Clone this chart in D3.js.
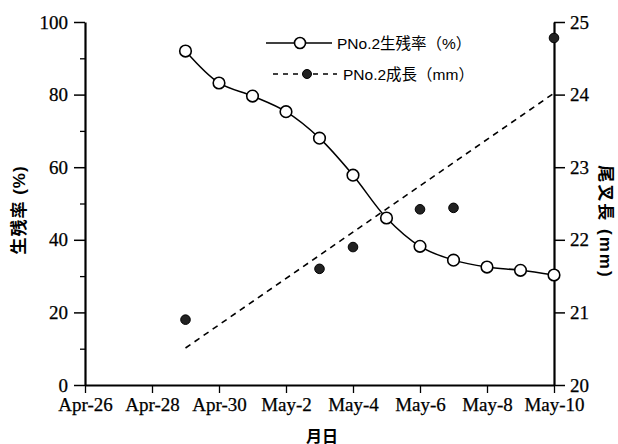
<!DOCTYPE html>
<html>
<head>
<meta charset="utf-8">
<script src="https://cdn.jsdelivr.net/npm/d3@7"></script>
<style>
  html, body { margin: 0; padding: 0; background: #fff; }
  svg { display: block; }
  .cjk { font-family: "Liberation Sans", "Noto Sans CJK JP", sans-serif; fill: #000; }
</style>
</head>
<body>
<svg id="chart" width="618" height="444"></svg>
<script>
// Survey dates and measurements for PNo.2
const surveyDates = ["2000-04-29","2000-04-30","2000-05-01","2000-05-02","2000-05-03","2000-05-04",
                     "2000-05-05","2000-05-06","2000-05-07","2000-05-08","2000-05-09","2000-05-10"];
const survivalPct = [92, 83.2, 79.6, 75.3, 68, 57.8, 46, 38.2, 34.4, 32.5, 31.6, 30.3];

const growthDates = ["2000-04-29","2000-05-03","2000-05-04","2000-05-06","2000-05-07","2000-05-10"];
const forkLengthMm = [20.9, 21.6, 21.9, 22.42, 22.44, 24.78];

// Linear trend of fork length (start / end of fitted line)
const trendDates = ["2000-04-29","2000-05-10"];
const trendMm = [20.51, 24.02];

const xTickDates = ["2000-04-26","2000-04-28","2000-04-30","2000-05-02","2000-05-04","2000-05-06","2000-05-08","2000-05-10"];
const leftTicks = [0, 20, 40, 60, 80, 100];
const leftMinorTicks = [10, 30, 50, 70, 90];
const rightTicks = [20, 21, 22, 23, 24, 25];

const parse = d3.timeParse("%Y-%m-%d");
const svg = d3.select("#chart");

const plot = { left: 85, right: 554, top: 22, bottom: 385 };

const x = d3.scaleTime()
  .domain([parse(xTickDates[0]), parse(xTickDates[xTickDates.length - 1])])
  .range([plot.left, plot.right]);
const yL = d3.scaleLinear().domain([0, 100]).range([plot.bottom, plot.top]);
const yR = d3.scaleLinear().domain([20, 25]).range([plot.bottom, plot.top]);

// Serif numerals on all axes
function styleTicks(g) {
  g.attr("font-family", "Liberation Serif").attr("font-size", 19);
  g.selectAll(".tick text")
    .attr("font-family", "Liberation Serif")
    .attr("font-size", 19)
    .attr("fill", "#000")
    .attr("stroke", "#000").attr("stroke-width", 0.25);
}

// Axes
const xAxis = d3.axisBottom(x)
  .tickValues(xTickDates.map(parse))
  .tickFormat(d3.timeFormat("%b-%-d"))
  .tickSize(8).tickPadding(5).tickSizeOuter(0);
const gx = svg.append("g").attr("transform", `translate(0,${plot.bottom})`).call(xAxis);
styleTicks(gx);
gx.select(".domain").attr("stroke-width", 2.2);
gx.selectAll(".tick line").attr("stroke-width", 1.3);

const yLAxis = d3.axisLeft(yL).tickValues(leftTicks).tickSize(11).tickPadding(6).tickSizeOuter(0);
const gyl = svg.append("g").attr("transform", `translate(${plot.left},0)`).call(yLAxis);
styleTicks(gyl);
gyl.select(".domain").attr("stroke-width", 2.2);
gyl.selectAll(".tick line").attr("stroke-width", 1.5);
const yLMinor = d3.axisLeft(yL).tickValues(leftMinorTicks).tickSize(5).tickFormat("");
const gylm = svg.append("g").attr("transform", `translate(${plot.left},0)`).call(yLMinor);
gylm.select(".domain").remove();
gylm.selectAll(".tick line").attr("stroke-width", 1.3);

const yRAxis = d3.axisRight(yR).tickValues(rightTicks).tickFormat(d3.format("d"))
  .tickSize(11).tickPadding(5).tickSizeOuter(0);
const gyr = svg.append("g").attr("transform", `translate(${plot.right},0)`).call(yRAxis);
styleTicks(gyr);
gyr.select(".domain").attr("stroke-width", 2.2);
gyr.selectAll(".tick line").attr("stroke-width", 1.5);

// Axis titles
svg.append("text").attr("class", "cjk")
  .attr("transform", "translate(19,210) rotate(-90)")
  .attr("text-anchor", "middle").attr("dominant-baseline", "central")
  .attr("font-size", 17).attr("font-weight", "bold").attr("letter-spacing", 1)
  .text("生残率 (%)");
svg.append("text").attr("class", "cjk")
  .attr("transform", "translate(605,222) rotate(90)")
  .attr("text-anchor", "middle").attr("dominant-baseline", "central")
  .attr("font-size", 17).attr("font-weight", "bold").attr("letter-spacing", 2)
  .text("尾叉長 (mm)");
svg.append("text").attr("class", "cjk")
  .attr("x", 322).attr("y", 442)
  .attr("text-anchor", "middle").attr("font-size", 16).attr("font-weight", "bold")
  .text("月日");

// Fork length trend (dashed)
const trend = trendDates.map((d, i) => ({ d: parse(d), v: trendMm[i] }));
svg.append("path").datum(trend)
  .attr("fill", "none").attr("stroke", "#000").attr("stroke-width", 1.6)
  .attr("stroke-dasharray", "6,5")
  .attr("d", d3.line().x(p => x(p.d)).y(p => yR(p.v)));

// Survival curve
const surv = surveyDates.map((d, i) => ({ d: parse(d), v: survivalPct[i] }));
svg.append("path").datum(surv)
  .attr("fill", "none").attr("stroke", "#000").attr("stroke-width", 1.5)
  .attr("d", d3.line().curve(d3.curveCatmullRom.alpha(0.5)).x(p => x(p.d)).y(p => yL(p.v)));

// Fork length points
const growth = growthDates.map((d, i) => ({ d: parse(d), v: forkLengthMm[i] }));
svg.append("g").selectAll("circle").data(growth).join("circle")
  .attr("cx", p => x(p.d)).attr("cy", p => yR(p.v)).attr("r", 4.8)
  .attr("fill", "#222").attr("stroke", "#000").attr("stroke-width", 1);

// Survival points
svg.append("g").selectAll("circle").data(surv).join("circle")
  .attr("cx", p => x(p.d)).attr("cy", p => yL(p.v)).attr("r", 5.8)
  .attr("fill", "#fff").attr("stroke", "#000").attr("stroke-width", 1.6);

// Legend
const lg = svg.append("g");
lg.append("line").attr("x1", 266).attr("x2", 332).attr("y1", 43).attr("y2", 43)
  .attr("stroke", "#000").attr("stroke-width", 1.5);
lg.append("circle").attr("cx", 300).attr("cy", 43).attr("r", 5.5)
  .attr("fill", "#fff").attr("stroke", "#000").attr("stroke-width", 1.6);
lg.append("text").attr("class", "cjk").attr("x", 337).attr("y", 49).attr("font-size", 15.5)
  .text("PNo.2生残率（%）");

lg.append("line").attr("x1", 273).attr("x2", 337).attr("y1", 74).attr("y2", 74)
  .attr("stroke", "#000").attr("stroke-width", 1.6).attr("stroke-dasharray", "5,5");
lg.append("circle").attr("cx", 307).attr("cy", 74).attr("r", 4.5)
  .attr("fill", "#222").attr("stroke", "#000").attr("stroke-width", 1);
lg.append("text").attr("class", "cjk").attr("x", 343).attr("y", 80).attr("font-size", 15.5)
  .text("PNo.2成長（mm）");
</script>
</body>
</html>
